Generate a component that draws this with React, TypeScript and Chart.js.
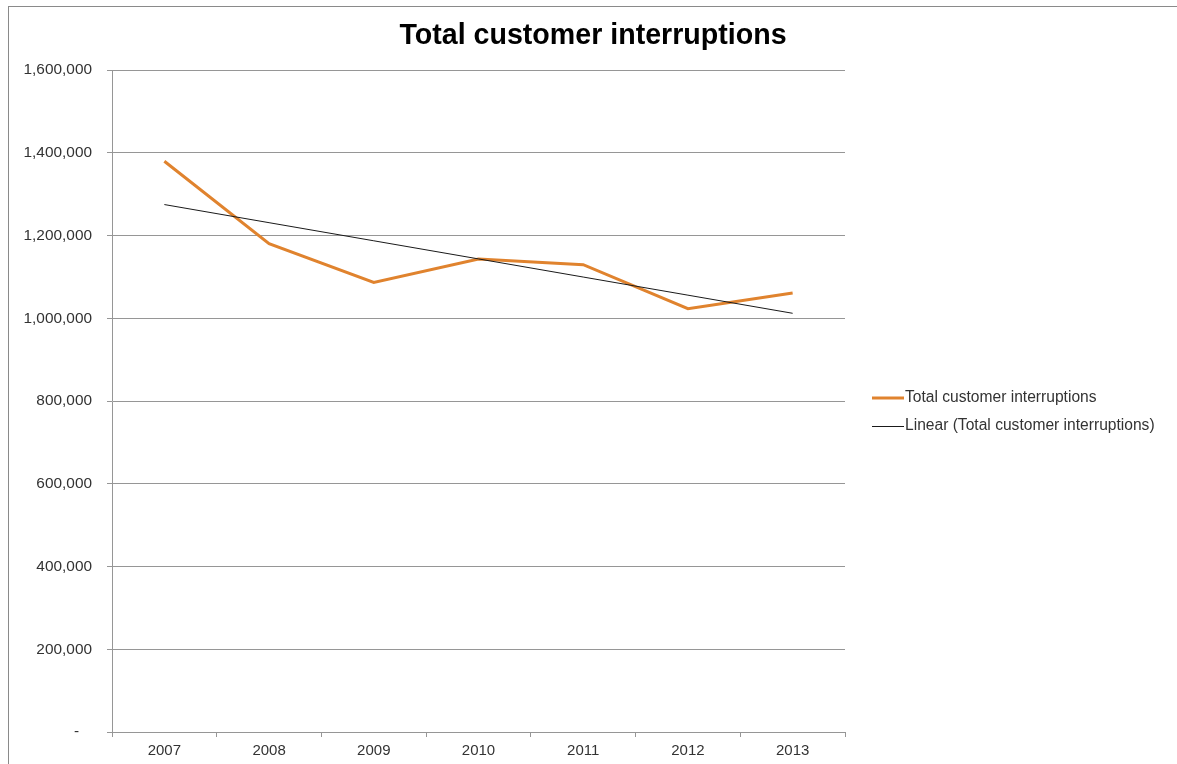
import React, { useEffect, useRef } from "react";
import { Chart, registerables } from "chart.js";

Chart.register(...registerables);

const TITLE = "Total customer interruptions";
const YEARS = ["2007", "2008", "2009", "2010", "2011", "2012", "2013"];
const INTERRUPTIONS = [1379400, 1180300, 1086700, 1143400, 1129600, 1023100, 1061100];
const TREND = [1274800, 1231000, 1187200, 1143400, 1099600, 1055800, 1012000];
const SERIES_LABEL = "Total customer interruptions";
const TREND_LABEL = "Linear (Total customer interruptions)";
const Y_MIN = 0;
const Y_MAX = 1600000;
const Y_STEP = 200000;

const ORANGE = "#E0832E";
const GRID = "#969696";
const TEXT = "#333333";
const FONT = "'Liberation Sans', Arial, sans-serif";

const framePlugin = {
  id: "frame",
  beforeDraw(chart: any) {
    const ctx = chart.ctx;
    ctx.save();
    ctx.fillStyle = "#ffffff";
    ctx.fillRect(0, 0, chart.width, chart.height);
    ctx.strokeStyle = "#8A8A8A";
    ctx.lineWidth = 1;
    ctx.strokeRect(8.5, 6.5, chart.width + 20, chart.height + 20);
    ctx.restore();
  },
  afterDraw(chart: any) {
    const ctx = chart.ctx;
    ctx.save();
    // title
    ctx.fillStyle = "#000000";
    ctx.font = `bold 28.6px ${FONT}`;
    ctx.textAlign = "center";
    ctx.textBaseline = "alphabetic";
    ctx.fillText(TITLE, 593, 44);
    // legend
    const items = [
      { label: SERIES_LABEL, color: ORANGE, width: 3, y: 398 },
      { label: TREND_LABEL, color: "#1a1a1a", width: 1, y: 426 },
    ];
    ctx.font = `15.6px ${FONT}`;
    ctx.textAlign = "left";
    ctx.textBaseline = "middle";
    for (const it of items) {
      ctx.strokeStyle = it.color;
      ctx.lineWidth = it.width;
      ctx.beginPath();
      ctx.moveTo(872, it.y + (it.width === 1 ? 0.5 : 0));
      ctx.lineTo(904, it.y + (it.width === 1 ? 0.5 : 0));
      ctx.stroke();
      ctx.fillStyle = TEXT;
      ctx.fillText(it.label, 905, it.y);
    }
    ctx.restore();
  },
};

export default function App() {
  const ref = useRef<HTMLCanvasElement | null>(null);

  useEffect(() => {
    document.body.style.margin = "0";
    const canvas = ref.current;
    if (!canvas) return;
    const chart = new Chart(canvas, {
      type: "line",
      data: {
        labels: YEARS,
        datasets: [
          {
            label: SERIES_LABEL,
            data: INTERRUPTIONS,
            borderColor: ORANGE,
            backgroundColor: ORANGE,
            borderWidth: 3,
            pointRadius: 0,
            tension: 0,
            order: 2,
          },
          {
            label: TREND_LABEL,
            data: TREND,
            borderColor: "#1a1a1a",
            backgroundColor: "#1a1a1a",
            borderWidth: 1,
            pointRadius: 0,
            tension: 0,
            order: 1,
          },
        ],
      },
      options: {
        responsive: false,
        animation: false,
        devicePixelRatio: 1,
        layout: { padding: { left: 0, right: 332, top: 70, bottom: 0 } },
        plugins: {
          legend: { display: false },
          title: { display: false },
          tooltip: { enabled: false },
        },
        scales: {
          x: {
            type: "category",
            offset: true,
            grid: {
              offset: true,
              drawOnChartArea: false,
              drawTicks: true,
              tickLength: 5,
              color: GRID,
            },
            border: { display: true, color: GRID, width: 1 },
            ticks: {
              color: TEXT,
              font: { family: FONT, size: 15 },
              padding: 5,
              maxRotation: 0,
              autoSkip: false,
            },
            afterFit(scale: any) {
              scale.height = 32;
            },
          },
          y: {
            min: Y_MIN,
            max: Y_MAX,
            grid: {
              color: GRID,
              drawTicks: true,
              tickLength: 5,
            },
            border: { display: true, color: GRID, width: 1 },
            ticks: {
              stepSize: Y_STEP,
              color: TEXT,
              font: { family: FONT, size: 15.4 },
              padding: 15,
              callback: (v: any) =>
                Number(v) === 0 ? "-   " : Number(v).toLocaleString("en-US"),
            },
            afterFit(scale: any) {
              scale.width = 112;
            },
          },
        },
      },
      plugins: [framePlugin],
    });
    return () => chart.destroy();
  }, []);

  return (
    <div style={{ width: 1177, height: 764, overflow: "hidden" }}>
      <canvas ref={ref} width={1177} height={764} style={{ display: "block" }} />
    </div>
  );
}
